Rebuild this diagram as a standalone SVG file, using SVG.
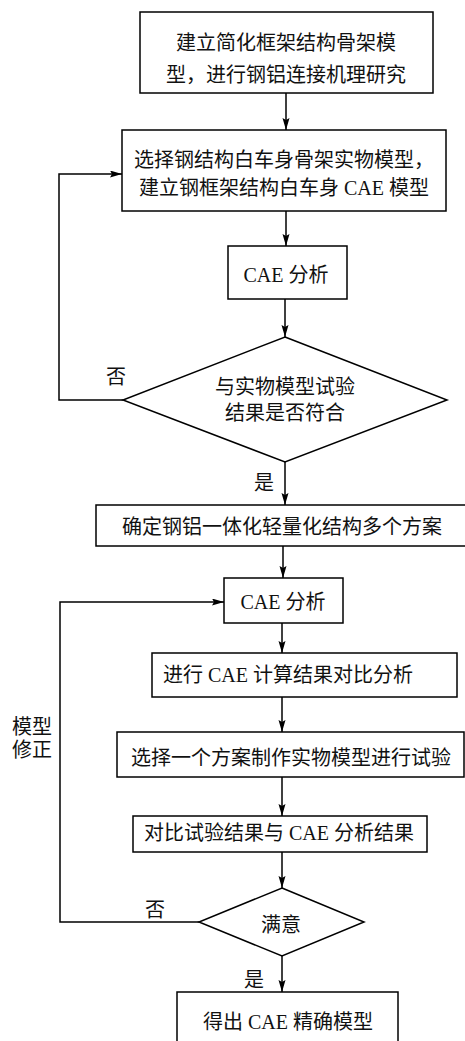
<svg xmlns="http://www.w3.org/2000/svg" width="465" height="1041" viewBox="0 0 465 1041">
<style>
.b{fill:#fff;stroke:#000;stroke-width:1.5}
.c{fill:none;stroke:#000;stroke-width:1.5}
text{font-family:"Liberation Serif","Noto Sans CJK SC",serif;font-size:20px;fill:#111;text-anchor:middle}
</style>
<defs>
<marker id="ah" markerUnits="userSpaceOnUse" markerWidth="13" markerHeight="8" refX="12" refY="3.5" orient="auto">
<path d="M0,0 L12,3.5 L0,7 L2,3.5 Z" fill="#000"/>
</marker>
</defs>
<rect width="465" height="1041" fill="#fff"/>
<g id="connectors">
<path class="c" d="M286,93 V130" marker-end="url(#ah)"/>
<path class="c" d="M286,211 V246" marker-end="url(#ah)"/>
<path class="c" d="M285,299 V337" marker-end="url(#ah)"/>
<path class="c" d="M285,462 V505" marker-end="url(#ah)"/>
<path class="c" d="M283,546 V578" marker-end="url(#ah)"/>
<path class="c" d="M282,623 V653" marker-end="url(#ah)"/>
<path class="c" d="M282,697 V732" marker-end="url(#ah)"/>
<path class="c" d="M282,777 V816" marker-end="url(#ah)"/>
<path class="c" d="M282,852 V888" marker-end="url(#ah)"/>
<path class="c" d="M282,956 V992" marker-end="url(#ah)"/>
<path class="c" d="M123,400 H59 V174 H122" marker-end="url(#ah)"/>
<path class="c" d="M199,922 H60 V602 H224" marker-end="url(#ah)"/>
<text x="116" y="384">否</text>
<text x="264" y="490">是</text>
<text x="155" y="917">否</text>
<text x="254" y="987">是</text>
<text x="32" y="734">模型</text>
<text x="32" y="757">修正</text>
</g>
<g id="n1"><rect class="b" x="140" y="12" width="293" height="81"/>
<text x="286" y="50">建立简化框架结构骨架模</text>
<text x="286" y="82">型，进行钢铝连接机理研究</text></g>
<g id="n2"><rect class="b" x="122" y="130" width="324" height="81"/>
<text x="284" y="167">选择钢结构白车身骨架实物模型，</text>
<text x="284" y="195">建立钢框架结构白车身 CAE 模型</text></g>
<g id="n3"><rect class="b" x="228" y="246" width="119" height="53"/>
<text x="286" y="282">CAE 分析</text></g>
<g id="d1"><polygon class="b" points="285,337 447,400 285,462 123,400"/>
<text x="285" y="394">与实物模型试验</text>
<text x="285" y="420">结果是否符合</text></g>
<g id="n4"><rect class="b" x="96" y="505" width="380" height="41"/>
<text x="282" y="534">确定钢铝一体化轻量化结构多个方案</text></g>
<g id="n5"><rect class="b" x="224" y="578" width="119" height="45"/>
<text x="283" y="609">CAE 分析</text></g>
<g id="n6"><rect class="b" x="152" y="653" width="305" height="44"/>
<text x="288" y="682">进行 CAE 计算结果对比分析</text></g>
<g id="n7"><rect class="b" x="117" y="732" width="347" height="45"/>
<text x="291" y="765">选择一个方案制作实物模型进行试验</text></g>
<g id="n8"><rect class="b" x="133" y="816" width="294" height="36"/>
<text x="279" y="840">对比试验结果与 CAE 分析结果</text></g>
<g id="d2"><polygon class="b" points="282,888 364,922 282,956 199,922"/>
<text x="281" y="932">满意</text></g>
<g id="n9"><rect class="b" x="177" y="992" width="221" height="60"/>
<text x="288" y="1029">得出 CAE 精确模型</text></g>
</svg>
